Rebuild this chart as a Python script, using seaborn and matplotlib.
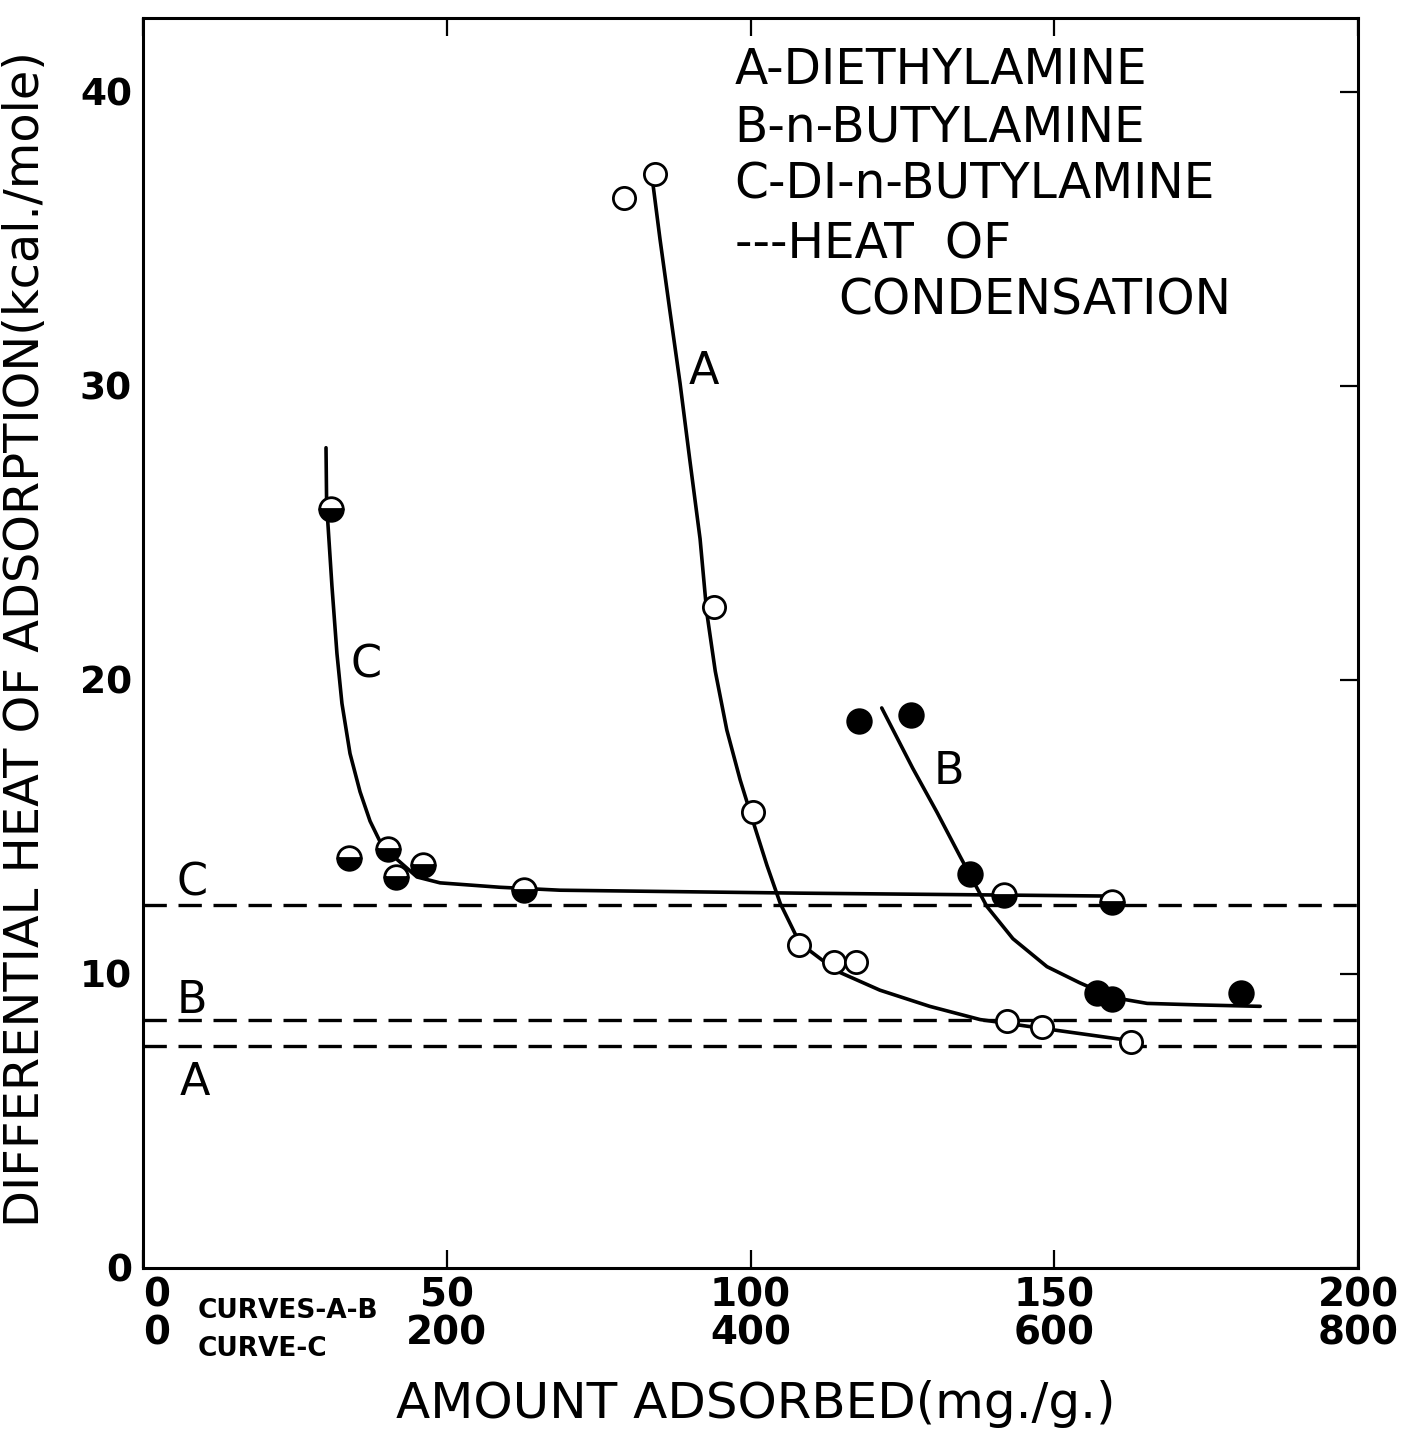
import numpy as np
import pandas as pd
import matplotlib
matplotlib.use("Agg")
import matplotlib.pyplot as plt
import seaborn as sns

# ---------------- data ----------------
# Curve A - diethylamine (x in mg/g, scale 0-200)
a_pts_x = [79.2, 84.3, 94.0, 100.4, 108.0, 113.7, 117.4, 142.2, 148.0, 162.6]
a_pts_y = [36.4, 37.2, 22.5, 15.5, 11.0, 10.4, 10.4, 8.4, 8.2, 7.7]
a_line_x = [83.8, 85.1, 86.7, 88.4, 90.0, 91.7, 92.8, 94.2, 96.1, 98.3, 100.4,
            102.7, 104.9, 108.1, 114.2, 121.3, 129.5, 137.8, 148.1, 162.0]
a_line_y = [37.1, 35.0, 32.6, 30.1, 27.5, 24.8, 22.3, 20.3, 18.3, 16.6, 15.2,
            13.7, 12.4, 11.05, 10.1, 9.45, 8.9, 8.45, 8.15, 7.75]

# Curve B - n-butylamine (x in mg/g, scale 0-200)
b_pts_x = [117.9, 126.4, 136.1, 157.0, 159.5, 180.7]
b_pts_y = [18.6, 18.8, 13.4, 9.35, 9.15, 9.35]
b_line_x = [121.6, 126.7, 130.7, 134.5, 138.9, 143.2, 148.8, 154.2, 159.7,
            165.3, 173.5, 183.9]
b_line_y = [19.05, 17.0, 15.5, 14.0, 12.3, 11.2, 10.25, 9.7, 9.2, 9.0, 8.95, 8.9]

# Curve C - di-n-butylamine (x in mg/g, scale 0-800)
c_pts_x = [123.8, 135.6, 161.3, 166.6, 184.4, 250.9, 566.9, 638.0]
c_pts_y = [25.8, 13.95, 14.25, 13.3, 13.7, 12.85, 12.7, 12.45]
c_line_x = [120.5, 120.9, 124.4, 127.7, 131.0, 136.3, 142.9, 149.5, 158.0,
            167.2, 180.4, 195.6, 235.1, 274.6, 432.6, 638.0]
c_line_y = [27.9, 26.0, 23.2, 20.9, 19.2, 17.5, 16.2, 15.2, 14.3, 13.9, 13.3,
            13.1, 12.95, 12.85, 12.75, 12.65]

# Heat of condensation levels
cond_labels = ["A", "B", "C"]
cond_levels = [7.55, 8.45, 12.35]

y_ticks = [0, 10, 20, 30, 40]
x_ticks_ab = [0, 50, 100, 150, 200]
x_ticks_c = [0, 200, 400, 600, 800]

legend_lines = ["A-DIETHYLAMINE", "B-n-BUTYLAMINE", "C-DI-n-BUTYLAMINE",
                "---HEAT  OF", "CONDENSATION"]

# ---------------- figure ----------------
sns.set_theme(style="white")
plt.rcParams["font.family"] = ["DejaVu Sans"]
for k in ["text.color", "axes.labelcolor", "xtick.color", "ytick.color"]:
    plt.rcParams[k] = "black"

W, H = 1408, 1434
fig = plt.figure(figsize=(W / 100, H / 100), dpi=100)
left, right = 143 / W, 1358 / W
bottom, top = 1 - 1268 / H, 1 - 18 / H
ax = fig.add_axes([left, bottom, right - left, top - bottom])
ax.set_xlim(0, 200)
ax.set_ylim(0, (1268 - 18) / 29.4)

K = "black"
LW = 2.6
MS = 16
MEW = 2.0

# heat of condensation dashed lines
for lev in cond_levels:
    sns.lineplot(x=[0, 200], y=[lev, lev], ax=ax, color=K, lw=2.4,
                 linestyle=(0, (7, 3.5)), estimator=None, sort=False)

# curve A
sns.lineplot(x=a_line_x, y=a_line_y, ax=ax, color=K, lw=LW, estimator=None, sort=False)
sns.lineplot(x=a_pts_x, y=a_pts_y, ax=ax, color=K, linestyle="", marker="o",
             markersize=MS, markerfacecolor="white", markeredgecolor=K,
             markeredgewidth=MEW, estimator=None, sort=False, zorder=5)
# curve B
sns.lineplot(x=b_line_x, y=b_line_y, ax=ax, color=K, lw=LW, estimator=None, sort=False)
sns.lineplot(x=b_pts_x, y=b_pts_y, ax=ax, color=K, linestyle="", marker="o",
             markersize=MS + 1, markerfacecolor=K, markeredgecolor=K,
             markeredgewidth=MEW, estimator=None, sort=False, zorder=5)

# curve C on its own x scale (0-800)
ax2 = ax.twiny()
ax2.set_xlim(0, 800)
ax2.set_ylim(ax.get_ylim())
sns.lineplot(x=c_line_x, y=c_line_y, ax=ax2, color=K, lw=LW, estimator=None, sort=False)
sns.lineplot(x=c_pts_x, y=c_pts_y, ax=ax2, color=K, linestyle="", marker="o",
             markersize=MS + 1, fillstyle="bottom", markerfacecolor=K,
             markerfacecoloralt="white", markeredgecolor=K,
             markeredgewidth=MEW, estimator=None, sort=False, zorder=5)
ax2.set_xticks([])
ax2.set_xlabel("")
ax2.set_ylabel("")
for s in ax2.spines.values():
    s.set_visible(False)
ax2.grid(False)

# frame & ticks
for s in ax.spines.values():
    s.set_visible(True)
    s.set_color(K)
    s.set_linewidth(2.2)
ax.grid(False)
ax.set_yticks(y_ticks)
ax.set_yticklabels([str(v) for v in y_ticks], fontsize=27, fontweight="bold")
ax.set_xticks(x_ticks_ab)
ax.set_xticklabels([f"{a}\n{c}" for a, c in zip(x_ticks_ab, x_ticks_c)],
                   fontsize=28, fontweight="bold", linespacing=1.0)
ax.tick_params(axis="both", direction="in", length=13, width=1.6, color=K,
               top=True, right=True, labeltop=False, labelright=False)
ax.tick_params(axis="x", pad=6)
ax.tick_params(axis="y", pad=8)
ax.xaxis.get_majorticklabels()[0].set_horizontalalignment("left")

# axis titles
ax.set_ylabel("DIFFERENTIAL HEAT OF ADSORPTION(kcal./mole)", fontsize=34.5)
ax.yaxis.set_label_coords(-0.077, 0.503)
ax.set_xlabel("AMOUNT ADSORBED(mg./g.)", fontsize=36)
ax.xaxis.set_label_coords(0.504, -0.09)

# scale notes on the x axis
ax.text(9.0, -0.024, "CURVES-A-B", transform=ax.get_xaxis_transform(),
        fontsize=19, fontweight="bold", va="top", ha="left")
ax.text(9.0, -0.054, "CURVE-C", transform=ax.get_xaxis_transform(),
        fontsize=19, fontweight="bold", va="top", ha="left")

# curve letters
lab_kw = dict(fontsize=32, ha="center", va="center", color=K)
ax.text(8.1, 13.1, "C", **lab_kw)
ax.text(8.1, 9.1, "B", **lab_kw)
ax.text(8.6, 6.3, "A", **lab_kw)
ax.text(36.7, 20.5, "C", **lab_kw)
ax.text(92.3, 30.5, "A", **lab_kw)
ax.text(132.7, 16.9, "B", **lab_kw)

# legend block
leg_y = [40.75, 38.8, 36.85, 34.8, 32.9]
leg_x = [97.4, 97.4, 97.4, 97.4, 114.5]
for t, xx, yy in zip(legend_lines, leg_x, leg_y):
    ax.text(xx, yy, t, fontsize=35, ha="left", va="center", color=K)

fig.savefig("out.png", dpi=100, facecolor="white")
